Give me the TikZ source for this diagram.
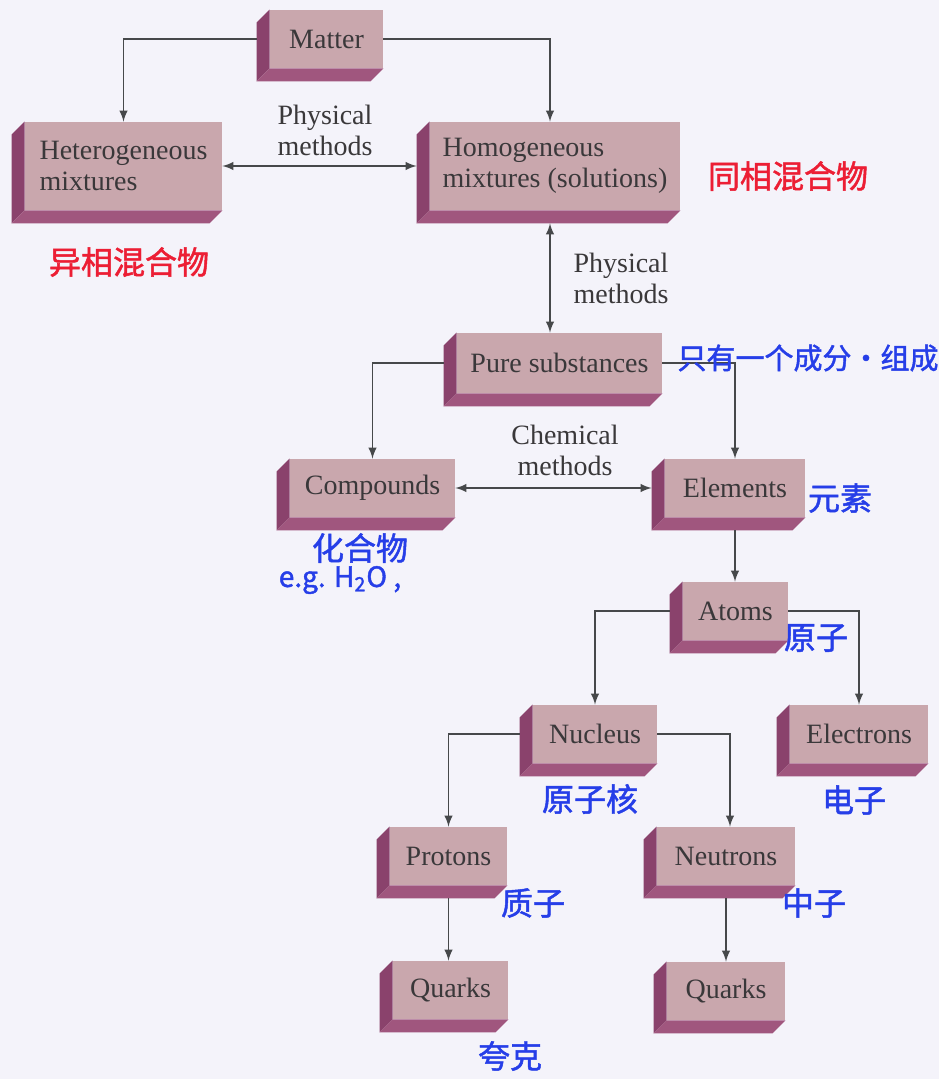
\documentclass[tikz,border=0pt]{standalone}
\usepackage{fontspec}
\setmainfont{Liberation Serif}
\newfontfamily\cjk[FakeBold=1.5]{Noto Sans CJK SC}
\usepackage{xcolor}
\usepackage{tikz}
\usetikzlibrary{arrows,positioning,calc,backgrounds}

\definecolor{paper}{RGB}{244,243,250}
\definecolor{facefill}{RGB}{201,167,173}
\definecolor{sidefill}{RGB}{138,66,108}
\definecolor{basefill}{RGB}{160,86,126}
\definecolor{txtgray}{RGB}{58,56,58}
\definecolor{linegray}{RGB}{70,72,74}
\definecolor{inkred}{RGB}{236,30,52}
\definecolor{inkblue}{RGB}{38,62,232}

\newcommand{\boxfont}{\fontsize{14pt}{15.5pt}\selectfont}
\newcommand{\notefont}{\cjk\fontsize{16pt}{18pt}\selectfont}

\begin{document}
\begin{tikzpicture}[
    x=0.5pt, y=-0.5pt,
    blk/.style={rectangle, fill=facefill, text=txtgray, font=\boxfont, inner sep=0pt, align=center, minimum height=29pt},
    link/.style={draw=linegray, line width=0.9pt},
    arrow/.style={link, -latex},
    twoway/.style={link, latex-latex},
    label/.style={font=\boxfont, text=txtgray, align=center},
    note/.style={font=\notefont, text=inkblue}
]
    \useasboundingbox (0,0) rectangle (939,1079);

    % Boxes (front faces)
    \node[blk, minimum width=56.5pt] (matter) at (326.5,39) {Matter};
    \node[blk, minimum width=98.5pt, minimum height=44pt, align=left] (hetero) at (123.5,166) {Heterogeneous\\mixtures};
    \node[blk, minimum width=125pt, minimum height=44pt, align=left] (homo) at (555,166) {Homogeneous\\mixtures (solutions)};
    \node[blk, minimum width=102.5pt, minimum height=30pt] (pure) at (559.5,363) {Pure substances};
    \node[blk, minimum width=82.5pt] (compounds) at (372.5,488) {Compounds};
    \node[blk, minimum width=70pt] (elements) at (735,488) {Elements};
    \node[blk, minimum width=52.5pt] (atoms) at (735.5,611) {Atoms};
    \node[blk, minimum width=62pt] (nucleus) at (595,734) {Nucleus};
    \node[blk, minimum width=69pt] (electrons) at (859,734) {Electrons};
    \node[blk, minimum width=58.5pt] (protons) at (448.5,856) {Protons};
    \node[blk, minimum width=69pt] (neutrons) at (726,856) {Neutrons};
    \node[blk, minimum width=57.5pt] (quarksp) at (450.5,990) {Quarks};
    \node[blk, minimum width=59pt] (quarksn) at (726,991) {Quarks};

    % Paper and box depth (left and bottom faces)
    \begin{scope}[on background layer]
        \fill[paper] (0,0) rectangle (939,1079);
        \foreach \b in {matter,hetero,homo,pure,compounds,elements,atoms,nucleus,electrons,protons,neutrons,quarksp,quarksn} {
            \fill[sidefill] (\b.north west) -- ++(-13,13) -- ($(\b.south west)+(-13,13)$) -- (\b.south west) -- cycle;
            \fill[basefill] (\b.south west) -- ++(-13,13) -- ($(\b.south east)+(-13,13)$) -- (\b.south east) -- cycle;
        }
    \end{scope}

    % Method labels
    \node[label] (phys1) at (325,130) {Physical\\methods};
    \node[label] (phys2) at (621,278) {Physical\\methods};
    \node[label] (chem) at (565,450) {Chemical\\methods};

    % Arrows
    \path[arrow, shorten <=6.5pt] (matter.west) -| (hetero.north);
    \path[arrow] (matter.east) -| ([xshift=-2.5pt]homo.north);
    \path[twoway, shorten >=6.5pt] (hetero.east) -- (homo.west);
    \path[twoway, shorten <=6.5pt] ([xshift=-2.5pt]homo.south) -- ([xshift=-2.5pt]homo.south |- pure.north);
    \path[arrow, shorten <=6.5pt] (pure.west) -| (compounds.north);
    \path[arrow] (pure.east) -| (elements.north);
    \path[twoway, shorten >=6.5pt] (compounds.east) -- (elements.west);
    \path[arrow, shorten <=6.5pt] (elements.south) -- (elements.south |- atoms.north);
    \path[arrow, shorten <=6.5pt] (atoms.west) -| (nucleus.north);
    \path[arrow] (atoms.east) -| (electrons.north);
    \path[arrow, shorten <=6.5pt] (nucleus.west) -| (protons.north);
    \path[arrow] (nucleus.east) -| ([xshift=2pt]neutrons.north);
    \path[arrow, shorten <=6.5pt] (protons.south) -- (protons.south |- quarksp.north);
    \path[arrow, shorten <=6.5pt] (neutrons.south) -- (quarksn.north);

    % Handwritten notes
    \node[note, text=inkred] (n-hetero) at (129,262) {异相混合物};
    \node[note, text=inkred] (n-homo) at (788,176) {同相混合物};
    \node[note, font=\cjk\fontsize{14.5pt}{16pt}\selectfont] (n-pure) at (808,358) {只有一个成分·组成};
    \node[note] (n-comp) at (360,548) {化合物};
    \node[note, font=\cjk\fontsize{14pt}{16pt}\selectfont] (n-eg) at (340,580) {e.g. H\textsubscript{2}O ,};
    \node[note] (n-elem) at (840,498) {元素};
    \node[note] (n-atom) at (816,638) {原子};
    \node[note] (n-nuc) at (590,799) {原子核};
    \node[note] (n-elec) at (854,800) {电子};
    \node[note] (n-prot) at (533,903) {质子};
    \node[note] (n-neut) at (814,903) {中子};
    \node[note] (n-quark) at (510,1056) {夸克};
\end{tikzpicture}
\end{document}
